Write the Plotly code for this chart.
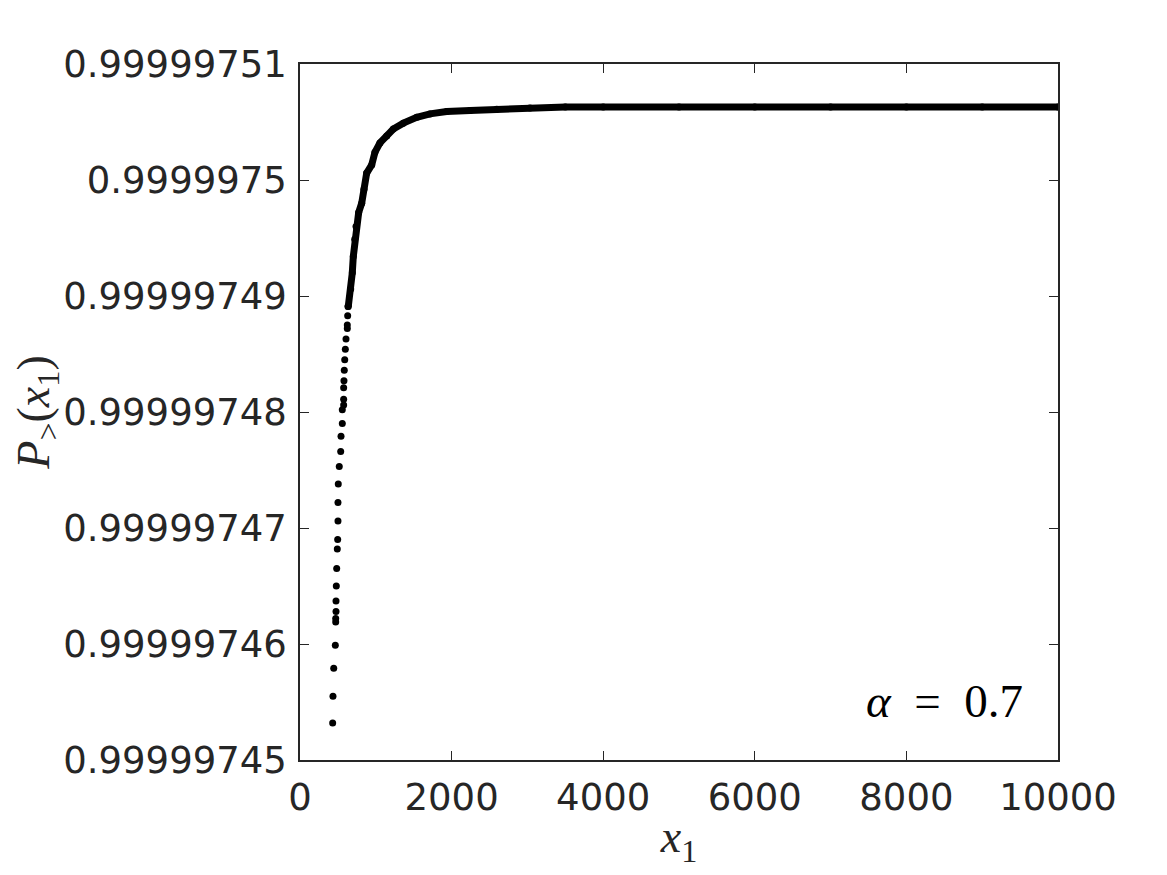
import plotly.graph_objects as go

# sampled points of the complementary CDF, alpha = 0.7
x1 = [431, 435, 445, 466, 471, 471, 475, 475, 479, 484, 492, 497, 501, 501,
      505, 518, 537, 541, 558, 558, 576, 576, 576, 580, 584, 590, 598, 607,
      624, 624, 629, 633, 637, 669, 690, 703, 722, 739, 774, 814, 844, 880,
      946, 989, 1055, 1144, 1231, 1363, 1540, 1715, 1935, 2243, 2595, 3034,
      3500, 4000, 5000, 6000, 7000, 8000, 9000, 10000]
p_gt = [0.9999974532, 0.9999974555, 0.9999974579, 0.9999974599, 0.9999974619,
        0.9999974622, 0.9999974628, 0.9999974637, 0.9999974650, 0.9999974665,
        0.9999974682, 0.9999974690, 0.9999974706, 0.9999974722, 0.9999974738,
        0.9999974753, 0.9999974766, 0.9999974779, 0.9999974790, 0.9999974802,
        0.9999974806, 0.9999974811, 0.9999974821, 0.9999974827, 0.9999974836,
        0.9999974845, 0.9999974854, 0.9999974863, 0.9999974872, 0.9999974875,
        0.9999974883, 0.9999974891, 0.9999974891, 0.9999974906, 0.9999974920,
        0.9999974934, 0.9999974949, 0.9999974960, 0.9999974972, 0.9999974980,
        0.9999974992, 0.9999975006, 0.9999975013, 0.9999975024, 0.9999975032,
        0.9999975038, 0.9999975044, 0.9999975049, 0.9999975054, 0.9999975057,
        0.9999975059, 0.9999975060, 0.9999975061, 0.9999975062, 0.9999975063,
        0.9999975063, 0.9999975063, 0.9999975063, 0.9999975063, 0.9999975063,
        0.9999975063, 0.9999975063]

x_ticks = [0, 2000, 4000, 6000, 8000, 10000]
y_ticks = [0.99999745, 0.99999746, 0.99999747, 0.99999748, 0.99999749,
           0.99999750, 0.99999751]
y_labels = ['0.99999745', '0.99999746', '0.99999747', '0.99999748',
            '0.99999749', '0.9999975', '0.99999751']

DENSE_FROM = 32  # index where the dots merge into a solid band

fig = go.Figure()
fig.add_trace(go.Scatter(
    x=x1[DENSE_FROM:], y=p_gt[DENSE_FROM:], mode='lines',
    line=dict(color='black', width=7), hoverinfo='skip',
))
fig.add_trace(go.Scatter(
    x=x1, y=p_gt, mode='markers',
    marker=dict(color='black', size=7),
))

axis_style = dict(
    showline=True, linecolor='#262626', linewidth=1.5, mirror='allticks',
    ticks='inside', ticklen=9, tickwidth=1.2, tickcolor='#262626',
    showgrid=False, zeroline=False, ticklabelstandoff=4,
    tickfont=dict(family='DejaVu Sans', size=37, color='#262626'),
)
math_font = dict(family='Liberation Serif', size=46, color='#262626')

fig.update_xaxes(
    range=[0, 10000], tickvals=x_ticks, ticktext=[str(t) for t in x_ticks],
    title=dict(text='<i>x</i><sub>1</sub>', standoff=2, font=math_font),
    **axis_style,
)
fig.update_yaxes(
    range=[0.99999745, 0.99999751], tickvals=y_ticks, ticktext=y_labels,
    title=dict(text='<i>P</i><sub>&gt;</sub>(<i>x</i><sub>1</sub>)', standoff=4,
               font=math_font),
    **axis_style,
)

fig.add_annotation(
    x=0.957, y=0.085, xref='paper', yref='paper', xanchor='right', yanchor='middle',
    text='<i>α</i>\u2002=\u20020.7', showarrow=False,
    font=dict(family='Liberation Serif', size=47, color='black'),
)

fig.update_layout(
    width=1167, height=875, showlegend=False,
    plot_bgcolor='white', paper_bgcolor='white',
    margin=dict(l=292, r=117, t=56, b=123),
)

fig.write_html("out.html")
